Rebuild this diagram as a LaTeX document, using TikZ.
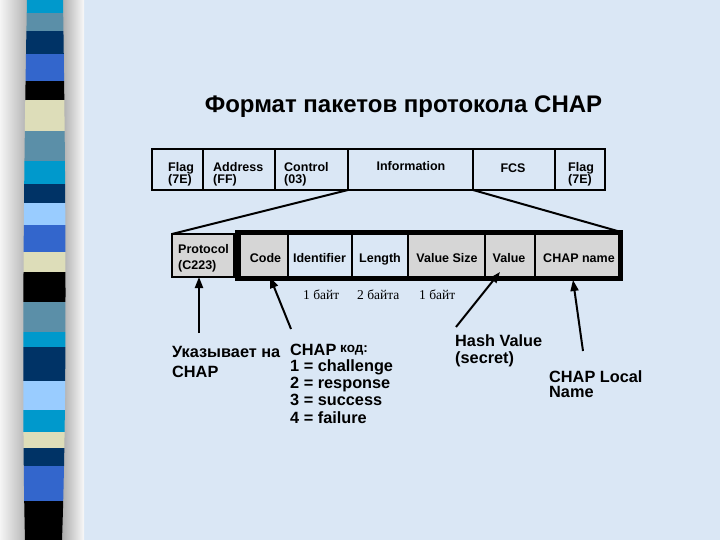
\documentclass[tikz,border=0pt]{standalone}
\usepackage{fontspec}
\setmainfont{Liberation Sans}
\newfontfamily\serifru{Liberation Serif}
\usetikzlibrary{arrows.meta}
\definecolor{bgblue}{HTML}{DAE7F5}
\definecolor{scyan}{HTML}{0099CC}
\definecolor{ssteel}{HTML}{5B8FA8}
\definecolor{snavy}{HTML}{003366}
\definecolor{sroyal}{HTML}{3366CC}
\definecolor{sbeige}{HTML}{DDDDB9}
\definecolor{slight}{HTML}{99CCFF}
\definecolor{cellgray}{HTML}{D6D6D6}
\begin{document}
\begin{tikzpicture}[x=1pt,y=-1pt,
  topcell/.style={draw=black, line width=2pt, inner sep=0, outer sep=0, anchor=north west, minimum height=41pt},
  lowcell/.style={draw=black, line width=1.5pt, inner sep=0, outer sep=0, anchor=north west, minimum height=43pt},
  graycell/.style={lowcell, fill=cellgray},
  thickbox/.style={draw=black, line width=4pt, inner sep=0, outer sep=0, anchor=north west},
  celltxt/.style={inner sep=0, font=\fontsize{12.5}{13}\selectfont\bfseries},
  lbl/.style={anchor=base west, inner sep=0, font=\fontsize{16.3}{17}\selectfont\bfseries},
  byte/.style={anchor=base west, inner sep=0, font=\fontsize{13.5}{14}\serifru},
  arr/.style={line width=2pt, -{Triangle[length=11pt,width=8pt]}},
  slant/.style={line width=2pt}
]
\useasboundingbox (0,0) rectangle (720,540);
% background
\fill[bgblue] (0,0) rectangle (720,540);
\shade[left color=white!92!gray, right color=gray!60] (0,0) rectangle (27,540);
\shade[left color=gray!65, right color=white!95!gray] (62,0) rectangle (84,540);
% stripes
\begin{scope}
\clip (27,0) -- (63,0) .. controls (66,200) and (67,400) .. (62,540) -- (25,540) .. controls (22,420) and (23,200) .. (27,0) -- cycle;
\foreach \a/\b/\c in {0/13/scyan,13/31/ssteel,31/54/snavy,54/81/sroyal,81/100/black,100/131/sbeige,131/161/ssteel,161/184/scyan,184/203/snavy,203/225/slight,225/252/sroyal,252/272/sbeige,272/302/black,302/332/ssteel,332/347/scyan,347/381/snavy,381/410/slight,410/432/scyan,432/448/sbeige,448/466/snavy,466/501/sroyal,501/540/black}
  \fill[\c] (20,\a) rectangle (70,\b);
\end{scope}
% title
\node[anchor=base, inner sep=0, font=\fontsize{24}{26}\selectfont\bfseries] (title) at (403.5,113) {Формат пакетов протокола CHAP};
% top row
\node[topcell, minimum width=51pt] (flagA) at (152,149) {};
\node[topcell, minimum width=72pt] (addr) at (203,149) {};
\node[topcell, minimum width=73pt] (ctrl) at (275,149) {};
\node[topcell, minimum width=125pt] (info) at (348,149) {};
\node[topcell, minimum width=82pt] (fcs) at (473,149) {};
\node[topcell, minimum width=50pt] (flagB) at (555,149) {};
\node[celltxt, anchor=base west] (tflagA) at (168,171.5) {Flag};
\node[celltxt, anchor=base west] (tflagA2) at (168,184) {(7E)};
\node[celltxt, anchor=base west] (taddr) at (213,171.5) {Address};
\node[celltxt, anchor=base west] (taddr2) at (213,184) {(FF)};
\node[celltxt, anchor=base west] (tctrl) at (284,171.5) {Control};
\node[celltxt, anchor=base west] (tctrl2) at (284,184) {(03)};
\node[celltxt, anchor=base] (tinfo) at (411,170.5) {Information};
\node[celltxt, anchor=base] (tfcs) at (513,172.5) {FCS};
\node[celltxt, anchor=base west] (tflagB) at (568,171.5) {Flag};
\node[celltxt, anchor=base west] (tflagB2) at (568,184) {(7E)};
% second row
\node[graycell, minimum width=62pt] (proto) at (172,234) {};
\node[graycell, minimum width=48pt] (code) at (240,234) {};
\node[lowcell, minimum width=64pt] (ident) at (288,234) {};
\node[lowcell, minimum width=56pt] (len) at (352,234) {};
\node[graycell, minimum width=77pt] (vsize) at (408,234) {};
\node[graycell, minimum width=50pt] (val) at (485,234) {};
\node[graycell, minimum width=84pt] (cname) at (535,234) {};
\node[thickbox, minimum width=384pt, minimum height=47pt] (chapbox) at (237,232) {};
\node[celltxt, anchor=base west] (tproto) at (178,254) {Protocol};
\node[celltxt, anchor=base west] (tproto2) at (178,269) {(C223)};
\node[celltxt, anchor=base] (tcode) at (265.5,262) {Code};
\node[celltxt, anchor=base] (tident) at (319.5,262) {Identifier};
\node[celltxt, anchor=base] (tlen) at (380,262) {Length};
\node[celltxt, anchor=base] (tvsize) at (447,262) {Value Size};
\node[celltxt, anchor=base] (tval) at (509,262) {Value};
\node[celltxt, anchor=base] (tcname) at (579,262) {CHAP name};
% slanted connectors
\draw[slant] (info.south west) -- (proto.north west);
\draw[slant] (info.south east) -- (chapbox.north east);
% byte sizes
\node[byte] (b1) at (303,299) {1 байт};
\node[byte] (b2) at (357,299) {2 байта};
\node[byte] (b3) at (419,299) {1 байт};
% labels
\node[lbl] (ukaz) at (172,357) {Указывает на};
\node[lbl] (ukaz2) at (172,377) {CHAP};
\node[lbl] (chapk) at (290,355.5) {CHAP};
\node[anchor=base west, inner sep=0, font=\fontsize{13.5}{14}\selectfont\bfseries] (kod) at (340,352.5) {код:};
\node[lbl] (c1) at (290,371) {1 = challenge};
\node[lbl] (c2) at (290,388) {2 = response};
\node[lbl] (c3) at (290,405.5) {3 = success};
\node[lbl] (c4) at (290,423) {4 = failure};
\node[lbl] (hash) at (455,346) {Hash Value};
\node[lbl] (hash2) at (455,363) {(secret)};
\node[lbl] (local) at (549,382) {CHAP Local};
\node[lbl] (local2) at (549,397) {Name};
% arrows
\coordinate (a1s) at (199,333);
\coordinate (a2s) at (291,329);
\coordinate (a2e) at (270,277);
\coordinate (a3s) at (456,327);
\coordinate (a3e) at (500,272);
\coordinate (a4s) at (583,351);
\coordinate (a4e) at (573,280);
\draw[arr] (a1s) -- (a1s |- proto.south);
\draw[arr] (a2s) -- (a2e);
\draw[arr] (a3s) -- (a3e);
\draw[arr] (a4s) -- (a4e);
\end{tikzpicture}
\end{document}
